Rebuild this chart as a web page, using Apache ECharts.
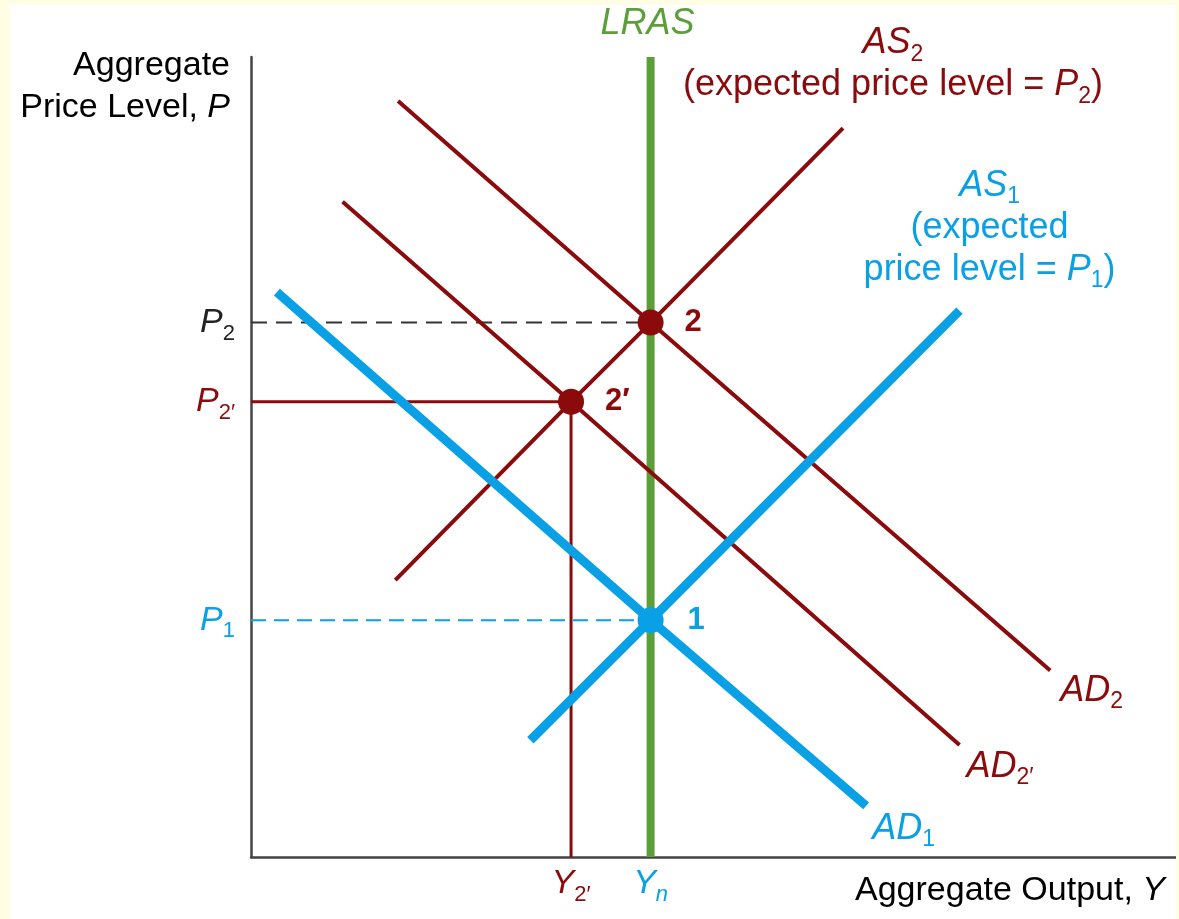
<!DOCTYPE html>
<html>
<head>
<meta charset="utf-8">
<title>AD-AS</title>
<script src="https://cdn.jsdelivr.net/npm/echarts@6/dist/echarts.min.js"></script>
<style>
html, body { margin: 0; padding: 0; background: #fffde3; }
#chart { position: absolute; left: 10px; top: 5px; width: 1166px; height: 914px; background: #fff; }
</style>
</head>
<body>
<div id="chart"></div>
<script>
// levels, both axes run 0-100
var Yn = 43.2, Y2p = 34.6
var P1 = 29.6, P2p = 56.9, P2 = 66.8

var lras = [[Yn, 0], [Yn, 100]]
var ad1 = [[2.8, 70.6], [Yn, P1], [66.5, 6.4]]
var as1 = [[30.2, 14.6], [Yn, P1], [76.6, 68.3]]
var as2 = [[15.6, 34.6], [Y2p, P2p], [Yn, P2], [64.0, 91.1]]
var ad2 = [[15.9, 94.5], [Yn, P2], [86.4, 23.3]]
var ad2p = [[9.9, 81.9], [Y2p, P2p], [76.6, 14.0]]
var p2Guide = [[0, P2], [Yn, P2]]
var p2pGuide = [[0, P2p], [Y2p, P2p], [Y2p, 0]]
var p1Guide = [[0, P1], [Yn, P1]]

var redPoints = [[Yn, P2], [Y2p, P2p]]
var redPointNames = ['2', '2′']
var bluePoints = [[Yn, P1]]
var bluePointNames = ['1']

var yTicks = [P1, P2p, P2]
var yTickLabels = ['{b|P}{bs|1}', '{r|P}{rs|2′}', '{k|P}{ks|2}']
var xTicks = [Y2p, Yn]
var xTickLabels = ['{r|Y}{rs|2′}', '{b|Y}{bsi|n}']

var RED = '#8b0a0c'
var BLUE = '#0aa0e6'
var GREEN = '#5b9e3a'
var INK = '#222'
var FONT = "'Liberation Sans', Arial, Helvetica, sans-serif"

function makeRich (size, subSize, drop) {
  function main (color, italic) {
    return { color: color, fontSize: size, fontFamily: FONT, fontStyle: italic ? 'italic' : 'normal', lineHeight: 42 }
  }
  function sub (color, italic) {
    return { color: color, fontSize: subSize, fontFamily: FONT, fontStyle: italic ? 'italic' : 'normal', lineHeight: 42, padding: [drop, 0, 0, 0] }
  }
  return {
    r: main(RED, true), rs: sub(RED), rt: main(RED, false),
    b: main(BLUE, true), bs: sub(BLUE), bsi: sub(BLUE, true), bt: main(BLUE, false),
    k: main(INK, true), ks: sub(INK), kt: main(INK, false),
    g: main(GREEN, true)
  }
}
var rich = makeRich(34, 22, 22)
var curveRich = makeRich(36, 23, 22)

function lookup (ticks, labels, value) {
  for (var i = 0; i < ticks.length; i++) {
    if (Math.abs(ticks[i] - value) < 0.01) return labels[i]
  }
  return ''
}

function curve (data, color, width, label, z) {
  var s = {
    type: 'line',
    data: data,
    symbol: 'none',
    z: z || 2,
    lineStyle: { color: color, width: width, cap: 'butt' },
    emphasis: { disabled: true }
  }
  if (label) {
    s.endLabel = {
      show: true,
      distance: 0,
      formatter: label.text,
      align: label.align,
      verticalAlign: label.verticalAlign,
      offset: label.offset,
      rich: curveRich
    }
  }
  return s
}

function guide (data, color, width, type) {
  return {
    type: 'line',
    data: data,
    symbol: 'none',
    z: 1,
    lineStyle: { color: color, width: width, type: type },
    emphasis: { disabled: true }
  }
}

function points (data, names, color, distance) {
  return {
    type: 'scatter',
    data: data,
    symbol: 'circle',
    symbolSize: 26,
    z: 5,
    itemStyle: { color: color, opacity: 1 },
    label: {
      show: true,
      position: 'right',
      distance: distance,
      formatter: function (p) { return names[p.dataIndex] },
      color: color,
      fontSize: 31,
      fontWeight: 'bold',
      fontFamily: FONT
    },
    emphasis: { disabled: true }
  }
}

var chart = echarts.init(document.getElementById('chart'))
chart.setOption({
  animation: false,
  backgroundColor: '#fff',
  grid: { left: 241, top: 52, right: 0, bottom: 62 },
  xAxis: {
    type: 'value',
    min: 0,
    max: 100,
    axisLine: { show: true, onZero: false, lineStyle: { color: '#444', width: 2.5 } },
    axisTick: { show: false },
    splitLine: { show: false },
    axisLabel: {
      customValues: xTicks,
      margin: 6,
      formatter: function (v) { return lookup(xTicks, xTickLabels, v) },
      rich: rich
    }
  },
  yAxis: {
    type: 'value',
    min: 0,
    max: 100,
    axisLine: { show: true, onZero: false, lineStyle: { color: '#444', width: 2.5 } },
    axisTick: { show: false },
    splitLine: { show: false },
    axisLabel: {
      customValues: yTicks,
      margin: 16,
      formatter: function (v) { return lookup(yTicks, yTickLabels, v) },
      rich: rich
    }
  },
  graphic: [
    {
      type: 'text',
      x: 220,
      y: 40,
      style: {
        text: '{kt|Aggregate}\n{kt|Price Level, }{k|P}',
        align: 'right',
        verticalAlign: 'top',
        rich: rich
      }
    },
    {
      type: 'text',
      x: 1155,
      y: 886,
      style: {
        text: '{kt|Aggregate Output, }{k|Y}',
        align: 'right',
        verticalAlign: 'middle',
        rich: rich
      }
    }
  ],
  series: [
    guide(p2Guide, '#333', 2, [16, 9]),
    guide(p1Guide, BLUE, 2, [15, 8]),
    guide(p2pGuide, RED, 3, 'solid'),
    curve(lras, GREEN, 8, { text: '{g|LRAS}', align: 'center', verticalAlign: 'middle', offset: [-3, -33] }, 2),
    curve(as2, RED, 4, { text: '{r|AS}{rs|2}\n{rt|(expected price level = }{r|P}{rs|2}{rt|)}', align: 'center', verticalAlign: 'bottom', offset: [50, -22] }, 3),
    curve(ad2, RED, 4, { text: '{r|AD}{rs|2}', align: 'left', verticalAlign: 'middle', offset: [10, 20] }, 3),
    curve(ad2p, RED, 4, { text: '{r|AD}{rs|2′}', align: 'left', verticalAlign: 'middle', offset: [7, 22] }, 3),
    curve(ad1, BLUE, 9, { text: '{b|AD}{bs|1}', align: 'left', verticalAlign: 'middle', offset: [6, 23] }, 4),
    curve(as1, BLUE, 9, { text: '{b|AS}{bs|1}\n{bt|(expected}\n{bt|price level = }{b|P}{bs|1}{bt|)}', align: 'center', verticalAlign: 'bottom', offset: [30, -20] }, 4),
    points(redPoints, redPointNames, RED, 21),
    points(bluePoints, bluePointNames, BLUE, 24)
  ]
})
</script>
</body>
</html>
